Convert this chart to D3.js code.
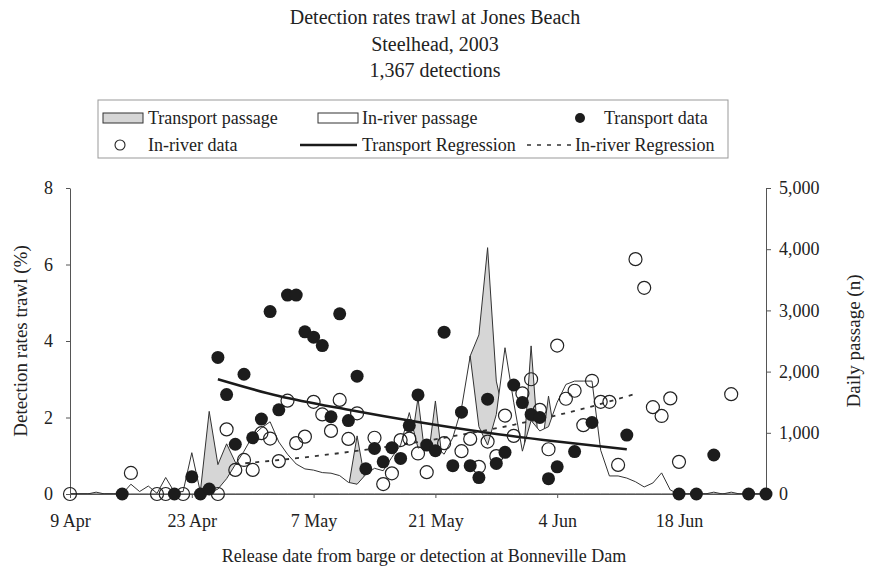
<!DOCTYPE html>
<html>
<head>
<meta charset="utf-8">
<title>Detection rates trawl at Jones Beach</title>
<script src="https://cdnjs.cloudflare.com/ajax/libs/d3/7.8.5/d3.min.js"></script>
<style>
	body { margin: 0; background: #fff; }
	text { font-family: "Liberation Serif", "Times New Roman", serif; fill: #222; }
</style>
</head>
<body>
<div id="chartDiv"></div>
<script>

	// daily passage (n), one value per day from 9 Apr to 28 Jun
	const passageStart = '2003-04-09';
	const passageEnd = '2003-06-29';
	const inRiverPassage = [
		0, 0, 0, 30, 0, 0, 0, 160, 40, 130,
		10, 270, 30, 40, 675, 20, 20, 80, 250, 480,
		700, 950, 1080, 1180, 850, 650, 490, 410, 390, 350,
		340, 300, 190, 160, 320, 420, 380, 600, 800, 1330,
		750, 800, 780, 650, 920, 1400, 2255, 1100, 800, 1300,
		2390, 1500, 700, 1200, 1030, 1100, 1500, 1790, 1845, 1845,
		1845, 715, 295, 295, 260, 200, 115, 180, 345, 65,
		0, 0, 0, 0, 30, 0, 30, 0, 0, 0,
		0
	];
	const transportPassage = [
		0, 0, 0, 0, 0, 0, 0, 0, 0, 0,
		0, 0, 0, 0, 0, 60, 1350, 480, 820, 520,
		350, 450, 500, 600, 400, 300, 250, 200, 190, 170,
		160, 150, 100, 950, 150, 200, 190, 300, 400, 600,
		1570, 400, 1520, 300, 450, 700, 2255, 2600, 4025, 1845,
		1200, 700, 350, 2420, 500, 1600, 700, 800, 900, 900,
		900, 350, 100, 0, 0, 0, 0, 0, 0, 0,
		0, 0, 0, 0, 0, 0, 0, 0, 0, 0,
		0
	];

	// detection rates (%)
	const transportDays = [
		'04-15', '04-21', '04-23', '04-24', '04-25', '04-26', '04-27', '04-28', '04-29', '04-30',
		'05-01', '05-02', '05-03', '05-04', '05-05', '05-06', '05-07', '05-08', '05-09', '05-10',
		'05-11', '05-12', '05-13', '05-14', '05-15', '05-16', '05-17', '05-18', '05-19', '05-20',
		'05-21', '05-22', '05-23', '05-24', '05-25', '05-26', '05-27', '05-28', '05-29', '05-30',
		'05-31', '06-01', '06-02', '06-03', '06-04', '06-06', '06-08', '06-12', '06-18', '06-20',
		'06-22', '06-26', '06-28'
	];
	const transportRates = [
		0, 0, 0.45, 0, 0.13, 3.57, 2.6, 1.3, 3.13, 1.47,
		1.96, 4.77, 2.2, 5.2, 5.2, 4.24, 4.1, 3.88, 2.02, 4.71,
		1.92, 3.08, 0.66, 1.19, 0.84, 1.21, 0.93, 1.79, 2.59, 1.28,
		1.13, 4.23, 0.74, 2.14, 0.74, 0.43, 2.48, 0.8, 1.09, 2.85,
		2.39, 2.08, 2.0, 0.4, 0.71, 1.11, 1.87, 1.54, 0, 0,
		1.02, 0, 0
	];
	const inRiverDays = [
		'04-09', '04-16', '04-19', '04-20', '04-22', '04-26', '04-27', '04-28', '04-29', '04-30',
		'05-01', '05-02', '05-03', '05-04', '05-05', '05-06', '05-07', '05-08', '05-09', '05-10',
		'05-11', '05-12', '05-14', '05-15', '05-16', '05-17', '05-18', '05-19', '05-20', '05-22',
		'05-24', '05-25', '05-26', '05-27', '05-28', '05-29', '05-30', '05-31', '06-01', '06-02',
		'06-03', '06-04', '06-05', '06-06', '06-07', '06-08', '06-09', '06-10', '06-11', '06-13',
		'06-14', '06-15', '06-16', '06-17', '06-18', '06-24'
	];
	const inRiverRates = [
		0, 0.55, 0, 0, 0, 0, 1.69, 0.63, 0.89, 0.63,
		1.59, 1.45, 0.86, 2.44, 1.33, 1.5, 2.41, 2.08, 1.65, 2.46,
		1.44, 2.11, 1.47, 0.26, 0.54, 1.41, 1.45, 1.06, 0.57, 1.33,
		1.12, 1.44, 0.71, 1.37, 0.99, 2.05, 1.52, 2.63, 3.0, 2.2,
		1.17, 3.88, 2.49, 2.7, 1.8, 2.96, 2.41, 2.41, 0.76, 6.14,
		5.39, 2.27, 2.04, 2.5, 0.84, 2.61
	];

	// regression curves
	const transportRegDays = ['04-26', '05-03', '05-11', '05-19', '05-27', '06-04', '06-12'];
	const transportRegRates = [3.0, 2.56, 2.2, 1.88, 1.6, 1.37, 1.17];
	const inRiverRegDays = ['04-28', '05-06', '05-14', '05-22', '05-30', '06-07', '06-13'];
	const inRiverRegRates = [0.78, 0.96, 1.19, 1.47, 1.81, 2.23, 2.62];

	const leftTicks = [0, 2, 4, 6, 8];
	const rightTicks = [0, 1000, 2000, 3000, 4000, 5000];
	const dateTicks = ['04-09', '04-23', '05-07', '05-21', '06-04', '06-18'];

	const titleLines = ['Detection rates trawl at Jones Beach', 'Steelhead, 2003', '1,367 detections'];

	const width = 870, height = 569;
	const margin = { left: 70, right: 98, top: 188, bottom: 75 };
	const ink = '#222';

	const parseDate = d3.timeParse('%Y-%m-%d');
	const day = s => parseDate('2003-' + s);

	const svg = d3.select('#chartDiv').append('svg')
		.attr('width', width)
		.attr('height', height);

	const x = d3.scaleTime()
		.domain([parseDate(passageStart), parseDate('2003-06-28')])
		.range([margin.left, width - margin.right - 6]);
	const yLeft = d3.scaleLinear().domain([0, 8]).range([height - margin.bottom, margin.top]);
	const yRight = d3.scaleLinear().domain([0, 5000]).range([height - margin.bottom, margin.top]);

	const passageDates = d3.timeDays(parseDate(passageStart), parseDate(passageEnd));

	//passage areas: transport below, in-river (white) over it
	const passageArea = vals => d3.area()
		.x((d, i) => x(passageDates[i]))
		.y0(yRight(0))
		.y1((d, i) => yRight(vals[i]));

	svg.append('path')
		.datum(transportPassage)
		.attr('d', passageArea(transportPassage))
		.attr('fill', '#d6d6d6')
		.attr('stroke', '#333')
		.attr('stroke-width', 1);

	svg.append('path')
		.datum(inRiverPassage)
		.attr('d', passageArea(inRiverPassage))
		.attr('fill', '#fff')
		.attr('stroke', '#333')
		.attr('stroke-width', 1);

	//axes
	const bottomAxis = svg.append('g')
		.attr('transform', `translate(0,${yLeft(0)})`)
		.call(d3.axisBottom(x)
			.tickValues(dateTicks.map(day))
			.tickFormat(d3.timeFormat('%-d %b'))
			.tickSize(4)
			.tickSizeOuter(0)
			.tickPadding(16));

	const leftAxis = svg.append('g')
		.attr('transform', `translate(${margin.left},0)`)
		.call(d3.axisLeft(yLeft)
			.tickValues(leftTicks)
			.tickSize(4)
			.tickSizeOuter(0)
			.tickPadding(13));

	const rightAxis = svg.append('g')
		.attr('transform', `translate(${x.range()[1]},0)`)
		.call(d3.axisRight(yRight)
			.tickValues(rightTicks)
			.tickFormat(d3.format(','))
			.tickSize(5)
			.tickSizeOuter(0)
			.tickPadding(8));

	[bottomAxis, leftAxis, rightAxis].forEach(g => {
		g.select('.domain').attr('stroke', '#555');
		g.selectAll('.tick line').attr('stroke', '#555');
		g.selectAll('.tick text')
			.attr('fill', ink)
			.style('font-size', '18px')
			.style('font-family', '"Liberation Serif", serif');
	});

	//regression lines
	const regLine = d3.line()
		.x(d => x(day(d[0])))
		.y(d => yLeft(d[1]))
		.curve(d3.curveMonotoneX);

	svg.append('path')
		.attr('d', regLine(d3.zip(transportRegDays, transportRegRates)))
		.attr('fill', 'none')
		.attr('stroke', '#1a1a1a')
		.attr('stroke-width', 2.5);

	svg.append('path')
		.attr('d', regLine(d3.zip(inRiverRegDays, inRiverRegRates)))
		.attr('fill', 'none')
		.attr('stroke', '#333')
		.attr('stroke-width', 1.8)
		.attr('stroke-dasharray', '4,6');

	//data points
	svg.append('g').selectAll('circle')
		.data(d3.zip(inRiverDays, inRiverRates))
		.enter()
		.append('circle')
		.attr('cx', d => x(day(d[0])))
		.attr('cy', d => yLeft(d[1]))
		.attr('r', 6.5)
		.attr('fill', 'none')
		.attr('stroke', '#222')
		.attr('stroke-width', 1.2);

	svg.append('g').selectAll('circle')
		.data(d3.zip(transportDays, transportRates))
		.enter()
		.append('circle')
		.attr('cx', d => x(day(d[0])))
		.attr('cy', d => yLeft(d[1]))
		.attr('r', 6.5)
		.attr('fill', '#1c1c1c');

	//titles
	svg.append('g').selectAll('text')
		.data(titleLines)
		.enter()
		.append('text')
		.attr('x', 435)
		.attr('y', (d, i) => 24 + i * 26.5)
		.attr('text-anchor', 'middle')
		.style('font-size', '20px')
		.text(d => d);

	svg.append('text')
		.attr('transform', `translate(27,${(yLeft(0) + yLeft(8)) / 2}) rotate(-90)`)
		.attr('text-anchor', 'middle')
		.style('font-size', '19px')
		.text('Detection rates trawl (%)');

	svg.append('text')
		.attr('transform', `translate(860,${(yLeft(0) + yLeft(8)) / 2}) rotate(-90)`)
		.attr('text-anchor', 'middle')
		.style('font-size', '19px')
		.text('Daily passage (n)');

	svg.append('text')
		.attr('x', 424)
		.attr('y', 562)
		.attr('text-anchor', 'middle')
		.style('font-size', '18px')
		.text('Release date from barge or detection at Bonneville Dam');

	//legend
	const legendG = svg.append('g').attr('class', 'legend');
	legendG.append('rect')
		.attr('x', 98).attr('y', 100)
		.attr('width', 630).attr('height', 58)
		.attr('fill', 'none')
		.attr('stroke', '#999');

	const row1 = 118, row2 = 145;
	legendG.append('rect')
		.attr('x', 103).attr('y', row1 - 5).attr('width', 40).attr('height', 10)
		.attr('fill', '#d6d6d6').attr('stroke', '#333');
	legendG.append('rect')
		.attr('x', 318).attr('y', row1 - 5).attr('width', 40).attr('height', 10)
		.attr('fill', '#fff').attr('stroke', '#333');
	legendG.append('circle')
		.attr('cx', 580).attr('cy', row1).attr('r', 5).attr('fill', '#1c1c1c');
	legendG.append('circle')
		.attr('cx', 120).attr('cy', row2).attr('r', 5).attr('fill', 'none')
		.attr('stroke', '#222').attr('stroke-width', 1.1);
	legendG.append('line')
		.attr('x1', 300).attr('x2', 357).attr('y1', row2).attr('y2', row2)
		.attr('stroke', '#1a1a1a').attr('stroke-width', 2.5);
	legendG.append('line')
		.attr('x1', 527).attr('x2', 571).attr('y1', row2).attr('y2', row2)
		.attr('stroke', '#333').attr('stroke-width', 1.6).attr('stroke-dasharray', '4,6');

	const legendLabels = [
		{ x: 148, y: row1, t: 'Transport passage' },
		{ x: 362, y: row1, t: 'In-river passage' },
		{ x: 604, y: row1, t: 'Transport data' },
		{ x: 148, y: row2, t: 'In-river data' },
		{ x: 362, y: row2, t: 'Transport Regression' },
		{ x: 575, y: row2, t: 'In-river Regression' }
	];
	legendG.selectAll('text.lbl')
		.data(legendLabels)
		.enter()
		.append('text')
		.attr('class', 'lbl')
		.attr('x', d => d.x)
		.attr('y', d => d.y + 5.5)
		.style('font-size', '18px')
		.text(d => d.t);

</script>
</body>
</html>
